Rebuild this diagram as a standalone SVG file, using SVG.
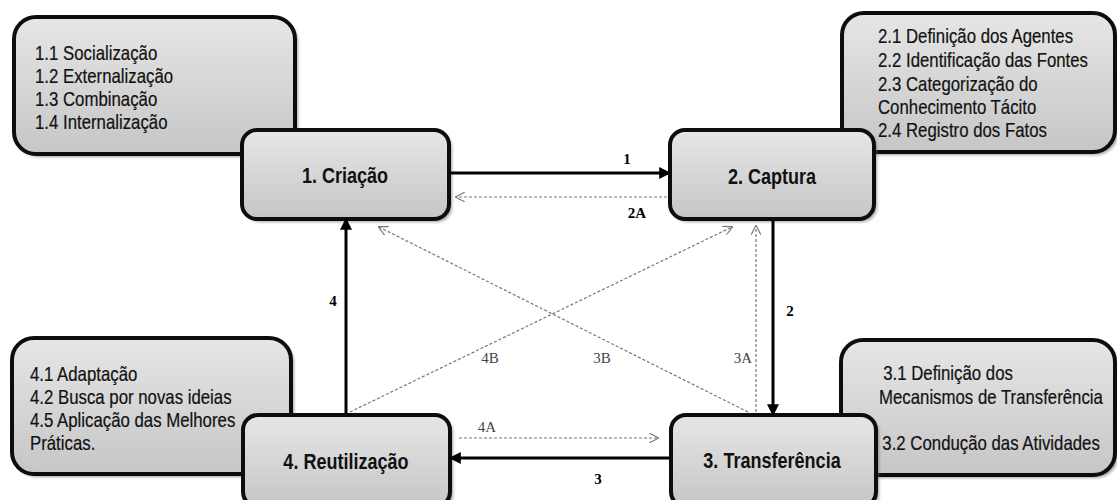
<svg xmlns="http://www.w3.org/2000/svg" width="1117" height="500" viewBox="0 0 1117 500">
<style>
.box{fill:url(#g);stroke:#0d0d0d;stroke-width:4}
.sh{fill:#666;opacity:0.6;filter:url(#blur)}
.lst{font-family:"Liberation Sans",Arial,sans-serif;font-size:20px;fill:#111;stroke:#111;stroke-width:0.2}
.nd{font-family:"Liberation Sans",Arial,sans-serif;font-size:22px;font-weight:bold;fill:#111;text-anchor:middle}
.solid{stroke:#000;stroke-width:3;fill:none;marker-end:url(#ah)}
.dash{stroke:#777;stroke-width:1.2;stroke-dasharray:3 2;fill:none;marker-end:url(#oh)}
.bl{font-family:"Liberation Serif","Times New Roman",serif;font-size:15px;font-weight:bold;fill:#000;text-anchor:middle}
.gl{font-family:"Liberation Serif","Times New Roman",serif;font-size:15px;fill:#444;text-anchor:middle}
</style>
<defs>
<linearGradient id="g" x1="0" y1="0" x2="0" y2="1">
<stop offset="0" stop-color="#e6e6e6"/>
<stop offset="1" stop-color="#c6c6c6"/>
</linearGradient>
<filter id="blur" x="-10%" y="-10%" width="120%" height="120%"><feGaussianBlur stdDeviation="1.5"/></filter>
<marker id="ah" viewBox="0 0 10 10" refX="9" refY="5" markerWidth="4" markerHeight="4" orient="auto" markerUnits="strokeWidth">
<path d="M0,0 L10,5 L0,10 z" fill="#000"/>
</marker>
<marker id="oh" viewBox="0 0 10 10" refX="9" refY="5" markerWidth="8" markerHeight="8" orient="auto" markerUnits="strokeWidth">
<path d="M0,0 L10,5 L0,10" fill="none" stroke="#777" stroke-width="1.2"/>
</marker>
</defs>

<g id="list1">
<rect class="sh" x="17" y="20" width="281" height="137" rx="22"/>
<rect class="box" x="14" y="17" width="281" height="137" rx="22"/>
<g transform="translate(35 0) scale(0.84 1)">
<text class="lst" x="0" y="60">1.1 Socialização</text>
<text class="lst" x="0" y="83">1.2 Externalização</text>
<text class="lst" x="0" y="106">1.3 Combinação</text>
<text class="lst" x="0" y="129">1.4 Internalização</text>
</g>
</g>
<g id="list2">
<rect class="sh" x="845" y="16" width="273" height="139" rx="22"/>
<rect class="box" x="842" y="13" width="273" height="139" rx="22"/>
<g transform="translate(878 0) scale(0.84 1)">
<text class="lst" x="0" y="43">2.1 Definição dos Agentes</text>
<text class="lst" x="0" y="67">2.2 Identificação das Fontes</text>
<text class="lst" x="0" y="91">2.3 Categorização do</text>
<text class="lst" x="0" y="114">Conhecimento Tácito</text>
<text class="lst" x="0" y="137">2.4 Registro dos Fatos</text>
</g>
</g>
<g id="list3">
<rect class="sh" x="844" y="343" width="274" height="135" rx="22"/>
<rect class="box" x="841" y="340" width="274" height="135" rx="22"/>
<g transform="translate(879 0) scale(0.84 1)">
<text class="lst" x="5" y="380">3.1 Definição dos</text>
<text class="lst" x="0" y="404">Mecanismos de Transferência</text>
<text class="lst" x="4" y="450">3.2 Condução das Atividades</text>
</g>
</g>
<g id="list4">
<rect class="sh" x="15" y="341" width="279" height="136" rx="22"/>
<rect class="box" x="12" y="338" width="279" height="136" rx="22"/>
<g transform="translate(30 0) scale(0.84 1)">
<text class="lst" x="0" y="381">4.1 Adaptação</text>
<text class="lst" x="0" y="404">4.2 Busca por novas ideias</text>
<text class="lst" x="0" y="427">4.5 Aplicação das Melhores</text>
<text class="lst" x="0" y="450">Práticas.</text>
</g>
</g>

<g id="n1">
<rect class="sh" x="245" y="133" width="207" height="89" rx="15"/>
<rect class="box" x="242" y="130" width="207" height="89" rx="15"/>
<text class="nd" transform="translate(345 183) scale(0.82 1)">1. Criação</text>
</g>
<g id="n2">
<rect class="sh" x="673" y="133" width="204" height="89" rx="15"/>
<rect class="box" x="670" y="130" width="204" height="89" rx="15"/>
<text class="nd" transform="translate(772 184) scale(0.82 1)">2. Captura</text>
</g>
<g id="n3">
<rect class="sh" x="674" y="418" width="205" height="92" rx="15"/>
<rect class="box" x="671" y="415" width="205" height="92" rx="15"/>
<text class="nd" transform="translate(772 468) scale(0.82 1)">3. Transferência</text>
</g>
<g id="n4">
<rect class="sh" x="246" y="418" width="207" height="92" rx="15"/>
<rect class="box" x="243" y="415" width="207" height="92" rx="15"/>
<text class="nd" transform="translate(346 469) scale(0.82 1)">4. Reutilização</text>
</g>

<g id="connectors">
<line class="solid" x1="451" y1="173" x2="670" y2="173"/>
<line class="dash" x1="667" y1="197" x2="456" y2="197"/>
<line class="solid" x1="773" y1="221" x2="773" y2="415"/>
<line class="solid" x1="669" y1="458" x2="450" y2="458"/>
<line class="solid" x1="346" y1="413" x2="346" y2="219"/>
<line class="dash" x1="459" y1="438" x2="658" y2="438"/>
<line class="dash" x1="756" y1="412" x2="756" y2="226"/>
<line class="dash" x1="748" y1="412" x2="379" y2="227"/>
<line class="dash" x1="350" y1="412" x2="732" y2="227"/>
<text class="bl" x="627" y="164">1</text>
<text class="bl" x="637" y="218">2A</text>
<text class="bl" x="790" y="316">2</text>
<text class="bl" x="598" y="484">3</text>
<text class="bl" x="333" y="306">4</text>
<text class="gl" x="487" y="432">4A</text>
<text class="gl" x="490" y="363">4B</text>
<text class="gl" x="602" y="363">3B</text>
<text class="gl" x="743" y="363">3A</text>
</g>
</svg>
